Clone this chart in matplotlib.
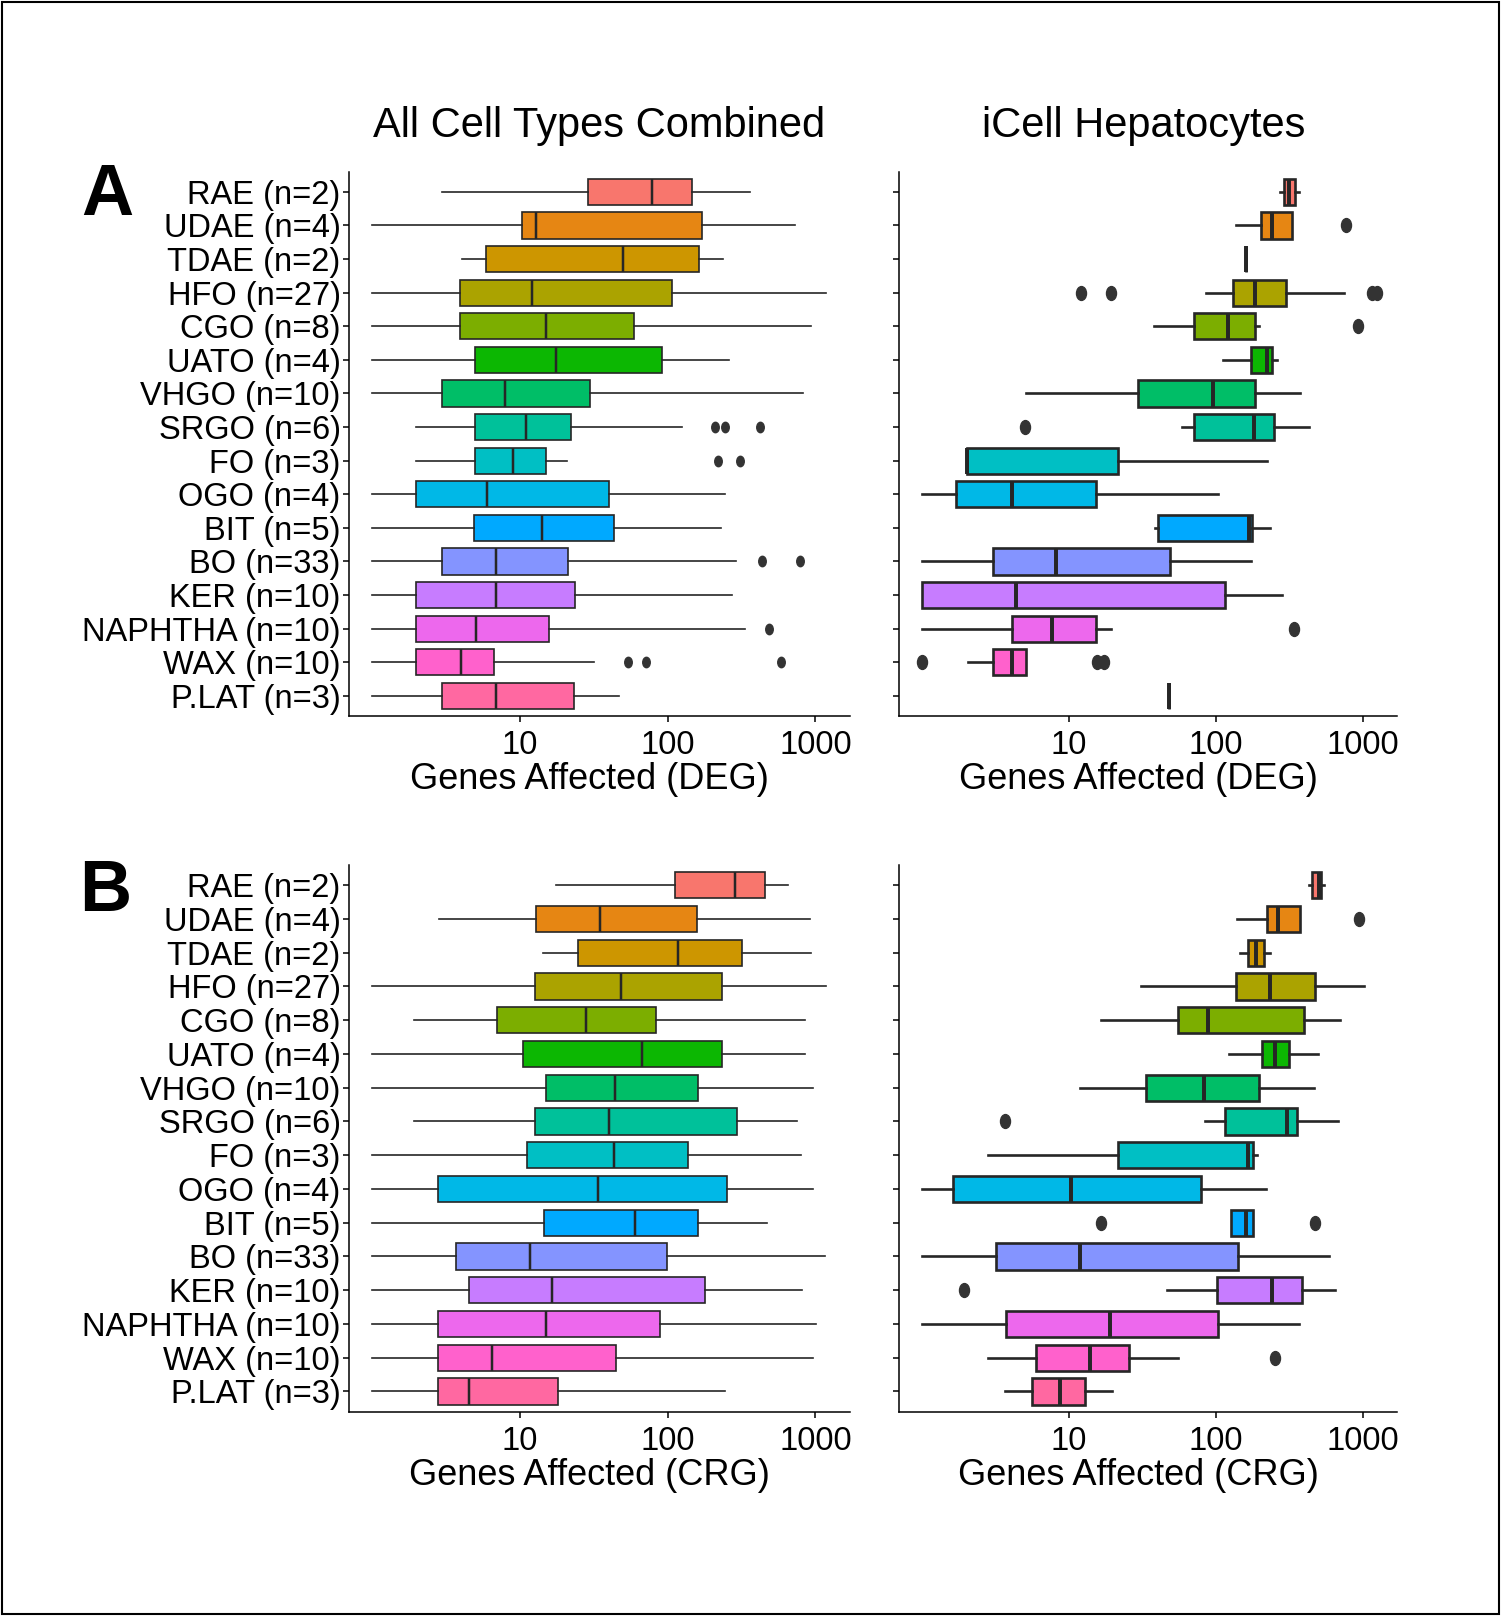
import numpy as np
import matplotlib
matplotlib.use("Agg")
import matplotlib.pyplot as plt
from matplotlib.path import Path
from matplotlib.transforms import Affine2D
from matplotlib.patches import Rectangle

plt.rcParams["font.family"] = ["Liberation Sans", "DejaVu Sans"]

labels = ["RAE (n=2)", "UDAE (n=4)", "TDAE (n=2)", "HFO (n=27)", "CGO (n=8)",
          "UATO (n=4)", "VHGO (n=10)", "SRGO (n=6)", "FO (n=3)", "OGO (n=4)",
          "BIT (n=5)", "BO (n=33)", "KER (n=10)", "NAPHTHA (n=10)", "WAX (n=10)",
          "P.LAT (n=3)"]

# A, all cell types (DEG)
deg_all_lo = [3.0, 1, 4.06, 1, 1, 1, 1, 2.0, 2.0, 1, 1, 1, 1, 1, 1, 1]
deg_all_q1 = [29, 10.4, 5.96, 3.97, 3.97, 4.99, 3.0, 5.0, 5.0, 2.0, 4.89, 3.0, 2.0, 2.0, 2.0, 3.0]
deg_all_med = [78, 13, 49.9, 12.1, 15.1, 17.7, 8.0, 11, 8.97, 6.0, 14.1, 6.95, 6.95, 5.05, 4.04, 6.95]
deg_all_q3 = [147, 171, 162, 107, 59.3, 91.6, 29.9, 22.1, 15, 40.2, 43.2, 21.1, 23.7, 15.7, 6.75, 23.2]
deg_all_hi = [362, 733, 236, 1180, 940, 262, 830, 126, 21, 244, 231, 291, 274, 335, 31.8, 46.9]
deg_all_out = [[], [], [], [], [], [], [], [208, 245, 425], [221, 310], [], [],
               [434, 792], [], [484], [54.2, 71, 583], []]

# A, iCell hepatocytes (DEG)
deg_hep_lo = [276, 137, 162, 86, 38.3, 113, 5.1, 59.2, 2.05, 1.01, 38.7, 1, 1, 1, 2.08, 48.3]
deg_hep_q1 = [291, 203, 162, 131, 71, 175, 29.5, 71, 2.05, 1.70, 40.5, 3.04, 1, 4.09, 3.04, 48.3]
deg_hep_med = [314, 240, 162, 186, 121, 224, 96.6, 182, 2.05, 4.09, 168, 8.25, 4.36, 7.71, 4.09, 48.3]
deg_hep_q3 = [345, 333, 162, 303, 186, 242, 186, 251, 21.6, 15.4, 177, 49.1, 115, 15.4, 5.12, 48.3]
deg_hep_hi = [371, 333, 162, 745, 197, 262, 377, 434, 224, 103, 234, 175, 283, 19.3, 5.12, 48.3]
deg_hep_out = [[], [773], [], [12.2, 19.5, 1150, 1250], [927], [], [], [5.08], [], [], [],
               [], [], [340], [1.0, 15.6, 17.5], []]

# B, all cell types (CRG)
crg_all_lo = [17.5, 2.84, 14.4, 1, 1.92, 1, 1, 1.92, 1, 1, 1, 1, 1, 1, 1, 1]
crg_all_q1 = [113, 12.8, 24.8, 12.7, 7.0, 10.6, 15, 12.7, 11.3, 2.82, 14.6, 3.7, 4.55, 2.82, 2.82, 2.82]
crg_all_med = [288, 35.2, 118, 48.6, 28.1, 66.7, 44.3, 40.2, 43.4, 33.8, 59.8, 11.8, 16.5, 15.1, 6.53, 4.55]
crg_all_q3 = [457, 158, 318, 232, 83.8, 232, 161, 297, 138, 253, 160, 99.6, 179, 88.7, 44.8, 18.2]
crg_all_hi = [653, 916, 935, 1180, 855, 855, 960, 748, 804, 960, 471, 1162, 815, 1012, 960, 245]
crg_all_out = [[] for _ in labels]

# B, iCell hepatocytes (CRG)
crg_hep_lo = [434, 140, 146, 31, 16.7, 123, 12, 84.7, 2.81, 1, 127, 1, 46.6, 1, 2.81, 3.7]
crg_hep_q1 = [452, 222, 166, 138, 55.3, 207, 33.7, 116, 21.6, 1.64, 127, 3.2, 102, 3.74, 6.04, 5.65]
crg_hep_med = [502, 266, 187, 236, 89.3, 255, 83.4, 306, 167, 10.4, 162, 11.9, 242, 19, 14, 8.69]
crg_hep_q3 = [523, 377, 213, 471, 399, 314, 197, 358, 180, 79.3, 180, 143, 387, 103, 25.9, 13.0]
crg_hep_hi = [543, 377, 236, 1028, 703, 497, 464, 685, 190, 221, 180, 593, 650, 367, 55.3, 19.7]
crg_hep_out = [[], [946], [], [], [], [], [], [3.68], [], [], [16.7, 476], [], [1.95], [], [252], []]


def hcl(h, c=100.0, l=65.0):
    # ggplot2 hue palette colour (polar Luv -> sRGB)
    h = np.deg2rad(h)
    u, v = c * np.cos(h), c * np.sin(h)
    xn, yn, zn = 95.047, 100.0, 108.883
    un = 4 * xn / (xn + 15 * yn + 3 * zn)
    vn = 9 * yn / (xn + 15 * yn + 3 * zn)
    y = yn * ((l + 16) / 116) ** 3
    up = u / (13 * l) + un
    vp = v / (13 * l) + vn
    x = y * 9 * up / (4 * vp)
    z = y * (12 - 3 * up - 20 * vp) / (4 * vp)
    m = np.array([[3.2404542, -1.5371385, -0.4985314],
                  [-0.9692660, 1.8760108, 0.0415560],
                  [0.0556434, -0.2040259, 1.0572252]])
    lin = m @ (np.array([x, y, z]) / 100)
    rgb = np.where(lin <= 0.0031308, 12.92 * lin, 1.055 * np.abs(lin) ** (1 / 2.4) - 0.055)
    return tuple(np.clip(rgb, 0, 1))


colors = [hcl(15 + 360 / 16 * i) for i in range(16)]

ellipse = Path.unit_circle().transformed(Affine2D().scale(0.72, 1.0))

W, H = 1501, 1616
fig = plt.figure(figsize=(W / 100, H / 100), dpi=100)


def panel(rect, lo, q1, med, q3, hi, out, xlabel, show_labels, lw, msize):
    ax = fig.add_axes(rect)
    n = len(labels)
    pos = np.arange(n, 0, -1)
    stats = [dict(whislo=lo[i], q1=q1[i], med=med[i], q3=q3[i], whishi=hi[i],
                  fliers=out[i]) for i in range(n)]
    ec = "#262626"
    parts = ax.bxp(stats, positions=pos, widths=0.78, orientation="horizontal",
                   patch_artist=True, showcaps=False,
                   boxprops=dict(edgecolor=ec, linewidth=lw),
                   medianprops=dict(color=ec, linewidth=lw * 1.5),
                   whiskerprops=dict(color=ec, linewidth=lw),
                   flierprops=dict(marker=ellipse, markerfacecolor="#333333",
                                   markeredgecolor="#333333", markersize=msize))
    for b, c in zip(parts["boxes"], colors):
        b.set_facecolor(c)
    ax.set_xscale("log")
    ax.set_xlim(10 ** -0.154, 10 ** 3.234)
    ax.set_ylim(0.4, n + 0.6)
    ax.set_xticks([10, 100, 1000])
    ax.set_xticklabels(["10", "100", "1000"])
    ax.xaxis.set_minor_locator(matplotlib.ticker.NullLocator())
    ax.set_yticks(pos)
    if show_labels:
        ax.set_yticklabels(labels)
    else:
        ax.set_yticklabels([])
    for s in ["top", "right"]:
        ax.spines[s].set_visible(False)
    for s in ["left", "bottom"]:
        ax.spines[s].set_linewidth(1.1)
    ax.tick_params(axis="both", labelsize=23.5, colors="black", width=1.1, length=4)
    ax.tick_params(axis="y", pad=2)
    ax.tick_params(axis="x", pad=6)
    ax.set_xlabel(xlabel, fontsize=26, labelpad=4)
    ax.xaxis.set_label_coords(0.48, -0.085)
    return ax


lx, rx = 349 / W, 899 / W
lw_, rw_ = 501 / W, 498 / W
top_b, top_h = 1 - 716 / H, 544.3 / H
bot_b, bot_h = 1 - 1411.7 / H, 546.7 / H

panel([lx, top_b, lw_, top_h], deg_all_lo, deg_all_q1, deg_all_med, deg_all_q3,
      deg_all_hi, deg_all_out, "Genes Affected (DEG)", True, 1.2, 7.5)
panel([rx, top_b, rw_, top_h], deg_hep_lo, deg_hep_q1, deg_hep_med, deg_hep_q3,
      deg_hep_hi, deg_hep_out, "Genes Affected (DEG)", False, 1.9, 10)
panel([lx, bot_b, lw_, bot_h], crg_all_lo, crg_all_q1, crg_all_med, crg_all_q3,
      crg_all_hi, crg_all_out, "Genes Affected (CRG)", True, 1.2, 7.5)
panel([rx, bot_b, rw_, bot_h], crg_hep_lo, crg_hep_q1, crg_hep_med, crg_hep_q3,
      crg_hep_hi, crg_hep_out, "Genes Affected (CRG)", False, 1.9, 10)

fig.text(lx + lw_ / 2, 1 - 126 / H, "All Cell Types Combined", fontsize=30,
         ha="center", va="center")
fig.text(rx + rw_ / 2 - 4 / W, 1 - 126 / H, "iCell Hepatocytes", fontsize=30,
         ha="center", va="center")
fig.text(107 / W, 1 - 196 / H, "A", fontsize=52, fontweight="bold",
         ha="center", va="center")
fig.text(105 / W, 1 - 892 / H, "B", fontsize=52, fontweight="bold",
         ha="center", va="center")

fig.patches.append(Rectangle((0.0015, 0.0015), 0.997, 0.997, transform=fig.transFigure,
                             fill=False, edgecolor="black", linewidth=1.5))

fig.savefig("out.png", dpi=100)
